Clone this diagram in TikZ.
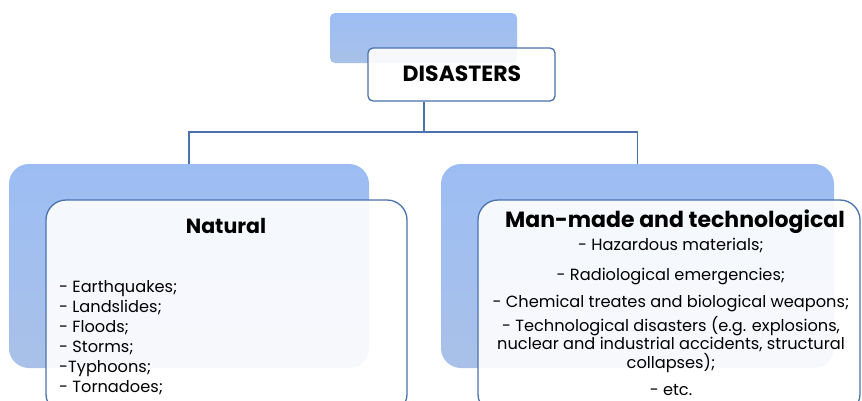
\documentclass[tikz,border=0pt]{standalone}
\usepackage{fontspec}
\setmainfont{Poppins}
\definecolor{boxline}{HTML}{4A72AC}
\definecolor{shadetop}{HTML}{9CBDF4}
\definecolor{shadebot}{HTML}{A9C1E8}
\tikzset{
  shadowbox/.style={draw=none, inner sep=0pt, top color=shadetop, bottom color=shadebot},
  frontbox/.style={draw=boxline, line width=1.3pt, inner sep=0pt, fill=white, fill opacity=0.9},
  link/.style={draw=boxline, line width=1.3pt},
  heading/.style={font=\bfseries\fontsize{20.5}{24}\selectfont},
  entry/.style={font=\fontsize{16.2}{16.5}\selectfont, inner sep=0pt, align=center},
}
\begin{document}
\begin{tikzpicture}[x=1pt, y=-1pt]
\useasboundingbox (0,0) rectangle (862,400);
\clip (0,0) rectangle (862,400);
% top box
\node[shadowbox, rounded corners=5pt, minimum width=187pt, minimum height=50pt] (topshadow) at (423.5, 38) {};
\node[frontbox, rounded corners=5pt, minimum width=187pt, minimum height=53pt] (disasters) at (461.5, 74.5) {};
\node[heading, font=\bfseries\fontsize{22}{26}\selectfont] (disasterstext) at (462, 74) {DISASTERS};
% left branch
\node[shadowbox, rounded corners=20pt, minimum width=360pt, minimum height=204pt] (natshadow) at (189, 266) {};
\node[frontbox, rounded corners=20pt, minimum width=361pt, minimum height=214pt] (natural) at (226.5, 307) {};
\node[heading, anchor=base] (naturaltext) at (226, 233) {Natural};
\node[entry, align=left, anchor=base west, font=\fontsize{16.2}{20}\selectfont] (natlist) at (59, 392) {- Earthquakes;\\- Landslides;\\- Floods;\\- Storms;\\-Typhoons;\\- Tornadoes;};
% right branch
\node[shadowbox, rounded corners=20pt, minimum width=393pt, minimum height=204pt] (manshadow) at (637.5, 266) {};
\node[frontbox, rounded corners=20pt, minimum width=382pt, minimum height=214pt] (manmade) at (669, 307) {};
\node[heading, anchor=base, font=\bfseries\fontsize{22}{26}\selectfont] (manmadetext) at (675, 227) {Man-made and technological};
\node[entry, anchor=base] (haz) at (671, 250) {- Hazardous materials;};
\node[entry, anchor=base] (rad) at (671, 280) {- Radiological emergencies;};
\node[entry, anchor=base] (chem) at (671, 307) {- Chemical treates and biological weapons;};
\node[entry, anchor=base] (tech) at (671, 368) {- Technological disasters (e.g. explosions,\\nuclear and industrial accidents, structural\\collapses);};
\node[entry, anchor=base] (etc) at (671, 395) {- etc.};
% connectors
\coordinate (hub) at (424, 132);
\draw[link] (disasters.south -| hub) -- (hub) -| (natshadow.north);
\draw[link] (hub) -| (manshadow.north);
\end{tikzpicture}
\end{document}
